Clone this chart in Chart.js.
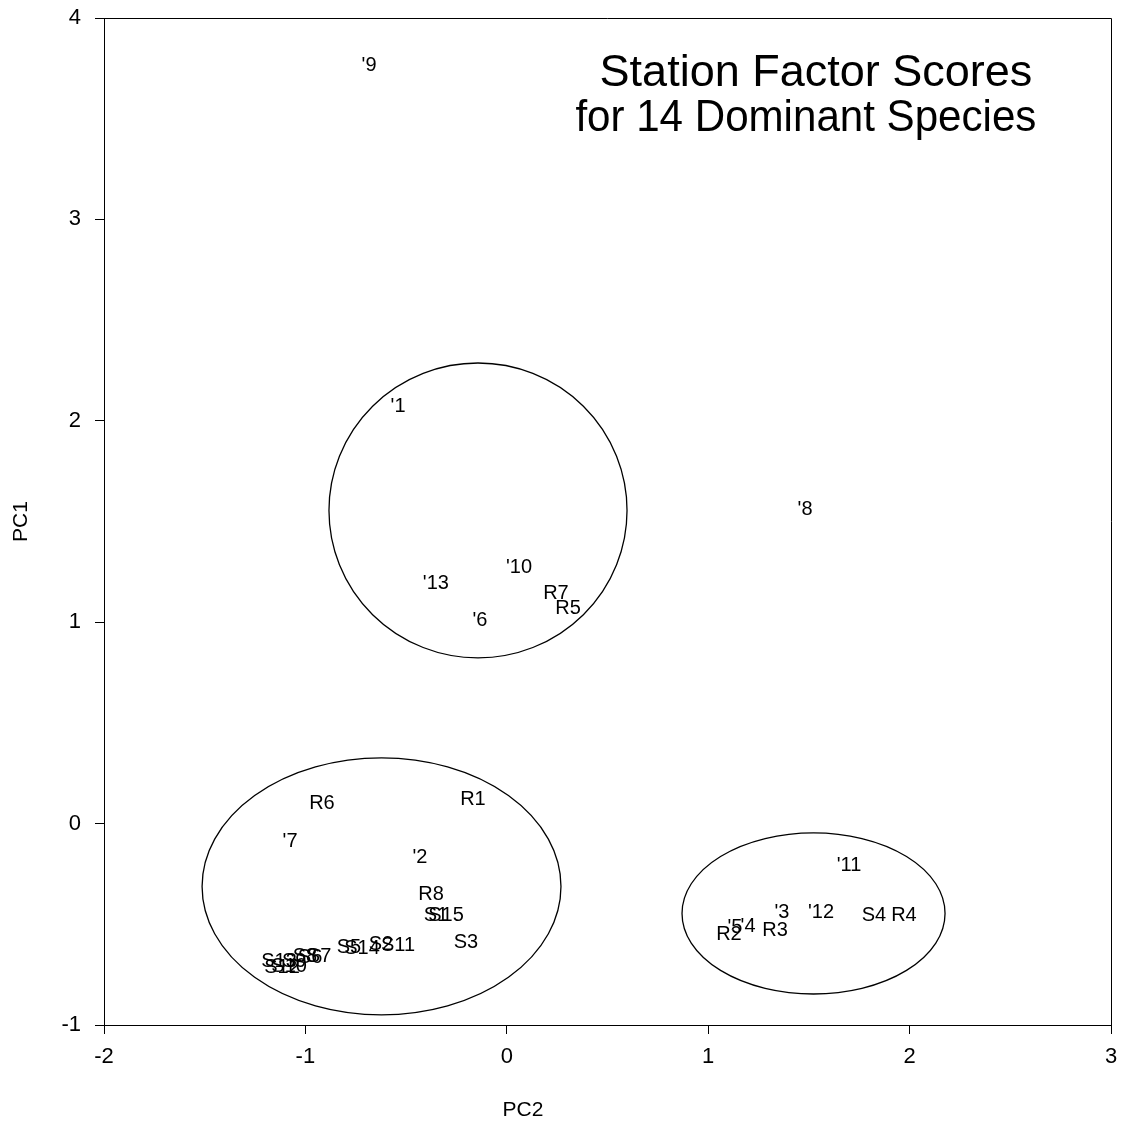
<!DOCTYPE html>
<html>
<head>
<meta charset="utf-8">
<title>Station Factor Scores</title>
<script src="https://cdn.jsdelivr.net/npm/chart.js@4/dist/chart.umd.min.js"></script>
<style>
  html, body { margin: 0; padding: 0; background: #ffffff; }
  #wrap { width: 1122px; height: 1131px; position: relative; }
</style>
</head>
<body>
<div id="wrap"><canvas id="chart" width="1122" height="1131"></canvas></div>
<script>
// Station / species labels and their factor scores (PC2 on x, PC1 on y)
const labels = [
  "'9", "'1", "'8", "'10", "'13", "R7", "R5", "'6",
  "R6", "R1", "'7", "'2", "R8", "S1", "S15", "S3",
  "S13", "S12", "S10", "S9", "S8", "S6", "S7", "S5", "S14", "S2", "S11",
  "'11", "'3", "'12", "S4", "R4", "'5", "'4", "R2", "R3"
];
const pc2 = [
  -0.684, -0.540, 1.481, 0.061, -0.352, 0.244, 0.304, -0.133,
  -0.918, -0.168, -1.076, -0.431, -0.376, -0.352, -0.302, -0.203,
  -1.131, -1.116, -1.081, -1.056, -1.002, -0.977, -0.932, -0.784, -0.719, -0.625, -0.540,
  1.699, 1.366, 1.560, 1.823, 1.972, 1.133, 1.198, 1.103, 1.332
];
const pc1 = [
  3.762, 2.069, 1.562, 1.274, 1.190, 1.145, 1.066, 1.011,
  0.102, 0.122, -0.091, -0.166, -0.350, -0.454, -0.454, -0.588,
  -0.687, -0.712, -0.707, -0.687, -0.662, -0.667, -0.662, -0.613, -0.618, -0.598, -0.603,
  -0.206, -0.439, -0.439, -0.454, -0.454, -0.518, -0.513, -0.553, -0.533
];

// Group outlines: centre and semi-axes in data units
const groupCx = [-0.143, -0.622, 1.523];
const groupCy = [1.555, -0.312, -0.446];
const groupRx = [0.740, 0.891, 0.653];
const groupRy = [0.732, 0.638, 0.400];

// Axis ticks
const xTicks = [-2, -1, 0, 1, 2, 3];
const yTicks = [-1, 0, 1, 2, 3, 4];

const titleLines = ["Station Factor Scores", "for 14 Dominant Species"];
const xAxisTitle = 'PC2';
const yAxisTitle = 'PC1';

const FONT = "Arial, 'Liberation Sans', sans-serif";

const points = pc2.map((x, i) => ({ x: x, y: pc1[i] }));

// Draws each station name at its scored position
const pointLabels = {
  id: 'pointLabels',
  afterDatasetsDraw(chart) {
    const ctx = chart.ctx;
    const meta = chart.getDatasetMeta(0);
    ctx.save();
    ctx.fillStyle = '#000';
    ctx.font = '20px ' + FONT;
    ctx.textAlign = 'center';
    ctx.textBaseline = 'middle';
    meta.data.forEach((el, i) => {
      ctx.fillText(labels[i], el.x, el.y);
    });
    ctx.restore();
  }
};

// Ellipses around the three station groups
const groupEllipses = {
  id: 'groupEllipses',
  beforeDatasetsDraw(chart) {
    const ctx = chart.ctx;
    const xs = chart.scales.x, ys = chart.scales.y;
    ctx.save();
    ctx.strokeStyle = '#000';
    ctx.lineWidth = 1.3;
    for (let i = 0; i < groupCx.length; i++) {
      const cx = xs.getPixelForValue(groupCx[i]);
      const cy = ys.getPixelForValue(groupCy[i]);
      const rx = Math.abs(xs.getPixelForValue(groupCx[i] + groupRx[i]) - cx);
      const ry = Math.abs(ys.getPixelForValue(groupCy[i] + groupRy[i]) - cy);
      ctx.beginPath();
      ctx.ellipse(cx, cy, rx, ry, 0, 0, Math.PI * 2);
      ctx.stroke();
    }
    ctx.restore();
  }
};

// Frame on top and right, the PC2 axis title and the in-plot title
const frameAndTitle = {
  id: 'frameAndTitle',
  afterDraw(chart) {
    const ctx = chart.ctx;
    const a = chart.chartArea;
    ctx.save();
    ctx.strokeStyle = '#000';
    ctx.lineWidth = 1;
    ctx.beginPath();
    ctx.moveTo(a.left, a.top + 0.5);
    ctx.lineTo(a.right + 0.5, a.top + 0.5);
    ctx.lineTo(a.right + 0.5, a.bottom);
    ctx.stroke();

    ctx.fillStyle = '#000';
    ctx.textAlign = 'center';
    ctx.textBaseline = 'middle';
    ctx.font = '21px ' + FONT;
    ctx.fillText(xAxisTitle, a.left + (a.right - a.left) * 0.416, 1110);

    ctx.textBaseline = 'alphabetic';
    ctx.font = '45px ' + FONT;
    ctx.fillText(titleLines[0], a.left + (a.right - a.left) * 0.707, 86);
    ctx.font = '44px ' + FONT;
    ctx.fillText(titleLines[1], a.left + (a.right - a.left) * 0.697, 131, 461);
    ctx.restore();
  }
};

new Chart(document.getElementById('chart'), {
  type: 'scatter',
  data: {
    datasets: [{
      data: points,
      pointRadius: 0,
      pointHoverRadius: 0,
      showLine: false
    }]
  },
  options: {
    responsive: false,
    animation: false,
    devicePixelRatio: 1,
    layout: { padding: { top: 18, right: 11, left: 0, bottom: 0 } },
    plugins: {
      legend: { display: false },
      tooltip: { enabled: false },
      title: { display: false }
    },
    scales: {
      x: {
        type: 'linear',
        min: -2, max: 3,
        afterBuildTicks(scale) { scale.ticks = xTicks.map(v => ({ value: v })); },
        afterFit(scale) {
          scale.height = 106;
          scale.paddingLeft = 0; scale.paddingRight = 0;
          scale.paddingTop = 0; scale.paddingBottom = 0;
        },
        grid: { drawOnChartArea: false, drawTicks: true, tickLength: 9, color: '#000', lineWidth: 1 },
        border: { display: true, color: '#000', width: 1 },
        ticks: { color: '#000', font: { family: FONT, size: 22 }, padding: 10, autoSkip: false, maxRotation: 0 },
        title: { display: false }
      },
      y: {
        type: 'linear',
        min: -1, max: 4,
        afterBuildTicks(scale) { scale.ticks = yTicks.map(v => ({ value: v })); },
        afterFit(scale) {
          scale.width = 104;
          scale.paddingLeft = 0; scale.paddingRight = 0;
          scale.paddingTop = 0; scale.paddingBottom = 0;
        },
        grid: { drawOnChartArea: false, drawTicks: true, tickLength: 9, color: '#000', lineWidth: 1 },
        border: { display: true, color: '#000', width: 1 },
        ticks: { color: '#000', font: { family: FONT, size: 22 }, padding: 14, autoSkip: false },
        title: { display: true, text: yAxisTitle, color: '#000', font: { family: FONT, size: 21 }, padding: { top: 9, bottom: 0 } }
      }
    }
  },
  plugins: [groupEllipses, pointLabels, frameAndTitle]
});
</script>
</body>
</html>
